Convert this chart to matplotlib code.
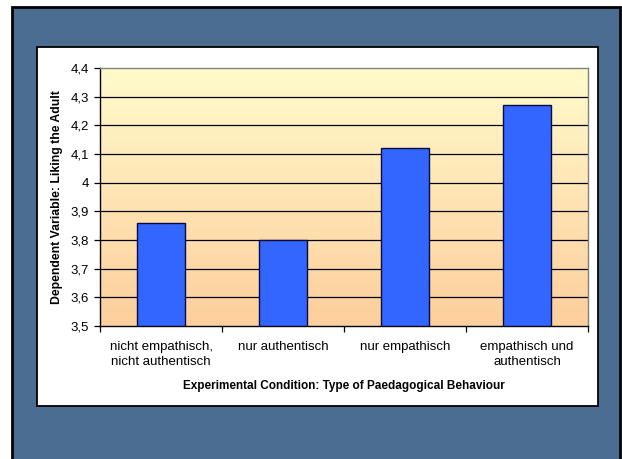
import numpy as np
import matplotlib.pyplot as plt
from matplotlib.patches import Rectangle
from matplotlib.colors import LinearSegmentedColormap

plt.rcParams['font.family'] = ['Liberation Sans', 'DejaVu Sans']

categories = ["nicht empathisch,\nnicht authentisch", "nur authentisch",
              "nur empathisch", "empathisch und\nauthentisch"]
values = [3.86, 3.80, 4.12, 4.27]
yticks = [3.5, 3.6, 3.7, 3.8, 3.9, 4.0, 4.1, 4.2, 4.3, 4.4]
ytick_labels = ["3,5", "3,6", "3,7", "3,8", "3,9", "4", "4,1", "4,2", "4,3", "4,4"]

W, H = 622, 459
fig = plt.figure(figsize=(W / 100, H / 100), dpi=100)
fig.patch.set_facecolor("white")

# slide background
fig.patches.append(Rectangle((12 / W, -0.1), 608 / W, 1 - 7 / H + 0.1,
                             transform=fig.transFigure, facecolor="#4b6d92",
                             edgecolor="black", linewidth=2, zorder=0))
# white chart box
fig.patches.append(Rectangle((37 / W, 1 - 406 / H), 561 / W, 359 / H,
                             transform=fig.transFigure, facecolor="white",
                             edgecolor="black", linewidth=1.3, zorder=1))

ax = fig.add_axes([100 / W, 1 - 326 / H, 488 / W, 258 / H])
ax.set_zorder(2)

# gradient background of plot area
cmap = LinearSegmentedColormap.from_list("bg", ["#fdcf9c", "#ffe4b4", "#fffbcc"])
grad = np.linspace(0, 1, 256).reshape(-1, 1)
ax.imshow(grad, cmap=cmap, aspect="auto", origin="lower",
          extent=[-0.5, 3.5, 3.5, 4.4], zorder=0)

x = np.arange(len(categories))
ax.bar(x, np.array(values) - 3.5, bottom=3.5, width=0.4, color="#3366ff",
       edgecolor="#0a0a40", linewidth=1.0, zorder=3)

ax.set_xlim(-0.5, 3.5)
ax.set_ylim(3.5, 4.4)
ax.set_yticks(yticks)
ax.set_yticklabels(ytick_labels)
for y in yticks[1:-1]:
    ax.axhline(y, color="black", linewidth=0.9, zorder=1)

ax.set_xticks(np.arange(-0.5, 4, 1.0))
ax.set_xticklabels([])
ax.set_xticks(x, minor=True)
ax.set_xticklabels(categories, minor=True, linespacing=1.35)
ax.tick_params(axis="x", which="minor", length=0, pad=11, labelsize=9.5)
ax.tick_params(axis="x", which="major", length=4, width=0.9, direction="out")
ax.tick_params(axis="y", length=4, width=0.9, labelsize=9.5, pad=4)

for side in ["left", "bottom"]:
    ax.spines[side].set_color("black")
    ax.spines[side].set_linewidth(1.0)
for side in ["top", "right"]:
    ax.spines[side].set_color("#808080")
    ax.spines[side].set_linewidth(1.0)

ax.set_ylabel("Dependent Variable: Liking the Adult", fontsize=8.8,
              fontweight="bold", labelpad=5)
ax.set_xlabel("Experimental Condition: Type of Paedagogical Behaviour",
              fontsize=8.5, fontweight="bold", labelpad=8)

fig.savefig("out.png", dpi=100)
